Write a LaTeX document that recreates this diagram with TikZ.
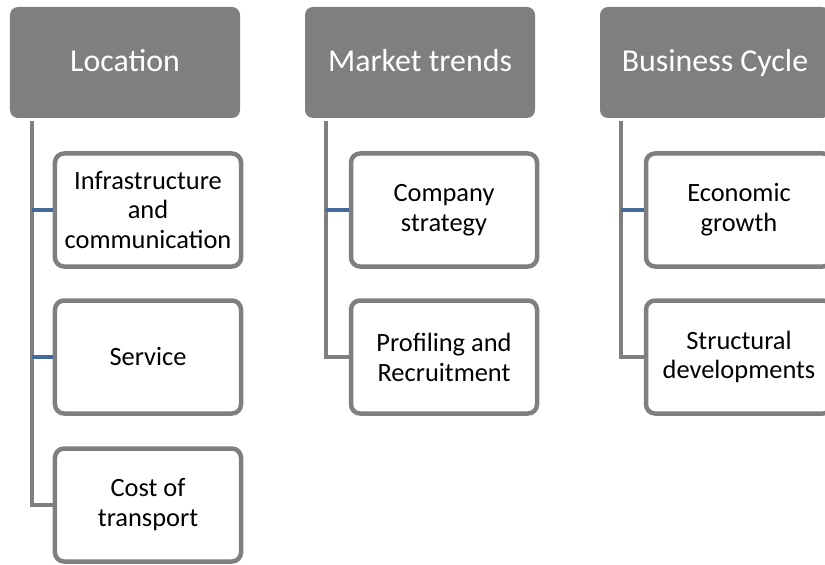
\documentclass[tikz,border=0pt]{standalone}
\usepackage{fontspec}
\setmainfont{Carlito}
\definecolor{headgray}{RGB}{127,127,127}
\definecolor{linkblue}{RGB}{68,105,155}
\tikzset{
  head/.style={fill=headgray, text=white, rounded corners=8bp, minimum width=230bp,
    minimum height=111bp, inner sep=0pt, text height=22bp, text depth=3bp,
    font=\fontsize{32}{38}\selectfont},
  leaf/.style={draw=headgray, line width=4.5bp, fill=white, rounded corners=9bp,
    minimum width=186bp, minimum height=113bp, inner sep=0pt, align=center,
    font=\fontsize{26.5}{30}\selectfont},
  trunk/.style={draw=headgray, line width=4bp},
  twig/.style={draw=linkblue, line width=4bp}
}
\begin{document}
\begin{tikzpicture}[x=1bp, y=-1bp]
\useasboundingbox (0,0) rectangle (825,565);
\clip (0,0) rectangle (825,565);
% headers
\node[head] (loc) at (125,62.5) {Location};
\node[head] (mkt) at (420,62.5) {Market trends};
\node[head] (biz) at (715,62.5) {Business Cycle};
% Location
\node[leaf] (infra) at (148,210) {Infrastructure\\and\\communication};
\node[leaf] (serv) at (148,357) {Service};
\node[leaf] (cost) at (148,505) {Cost of\\transport};
\coordinate (loctop) at (32,121);
\draw[trunk] (loctop) |- (cost.west);
\draw[twig] (loctop |- infra.west) -- (infra.west);
\draw[twig] (loctop |- serv.west) -- (serv.west);
% Market trends
\node[leaf] (strat) at (444,210) {Company\\strategy};
\node[leaf] (recr) at (444,357) {Profiling and\\Recruitment};
\coordinate (mkttop) at (326,121);
\draw[trunk] (mkttop) |- (recr.west);
\draw[twig] (mkttop |- strat.west) -- (strat.west);
% Business Cycle
\node[leaf] (growth) at (739,210) {Economic\\growth};
\node[leaf] (devel) at (739,357) {Structural\\developments};
\coordinate (biztop) at (621,121);
\draw[trunk] (biztop) |- (devel.west);
\draw[twig] (biztop |- growth.west) -- (growth.west);
\end{tikzpicture}
\end{document}
